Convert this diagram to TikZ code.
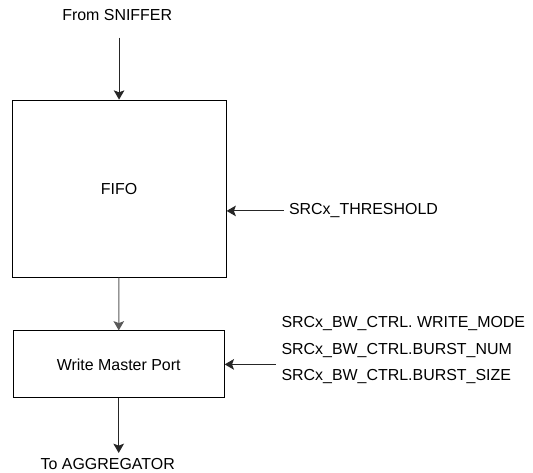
\documentclass[tikz,border=0pt]{standalone}
\usepackage{fontspec}
\setmainfont{Liberation Sans}
\usepackage{tikz}
\usetikzlibrary{positioning,arrows.meta}

\begin{document}
\begin{tikzpicture}[
    >={Stealth[length=7pt,width=8pt,inset=1.5pt]},
    font=\fontsize{12}{14}\selectfont,
    blk/.style={draw=black, line width=0.8pt, align=center},
    lbl/.style={inner sep=4pt},
    wire/.style={->, line width=0.8pt, draw=black!85},
  ]
    \useasboundingbox (0,0) rectangle (14.10,-12.51);

    \node[lbl] (snf) at (3.10,-0.40) {From SNIFFER};
    \node[blk, minimum width=5.66cm, minimum height=4.68cm] (fifo) at (3.15,-4.99) {FIFO};
    \node[blk, minimum width=5.58cm, minimum height=1.77cm] (wmp)  at (3.14,-9.64) {Write Master Port};
    \node[lbl] (agg) at (2.85,-12.28) {To AGGREGATOR};

    \node[lbl, anchor=west] (thr) at (7.50,-5.58) {SRCx\_THRESHOLD};
    \node[lbl, anchor=west, align=left, font=\fontsize{12}{20}\selectfont] (ctrl) at (7.30,-9.26)
      {SRCx\_BW\_CTRL. WRITE\_MODE\\SRCx\_BW\_CTRL.BURST\_NUM\\SRCx\_BW\_CTRL.BURST\_SIZE};

    \draw[wire, shorten <=0.30cm] (fifo.north |- snf.south) -- (fifo.north);
    \draw[wire, draw=black!65] (fifo) -- (wmp);
    \draw[wire] (wmp.south) -- (wmp.south |- agg.north);
    \draw[wire] (thr.west) -- (fifo.east |- thr.west);
    \draw[wire] (ctrl.west |- wmp.east) -- (wmp.east);
  \end{tikzpicture}
\end{document}
